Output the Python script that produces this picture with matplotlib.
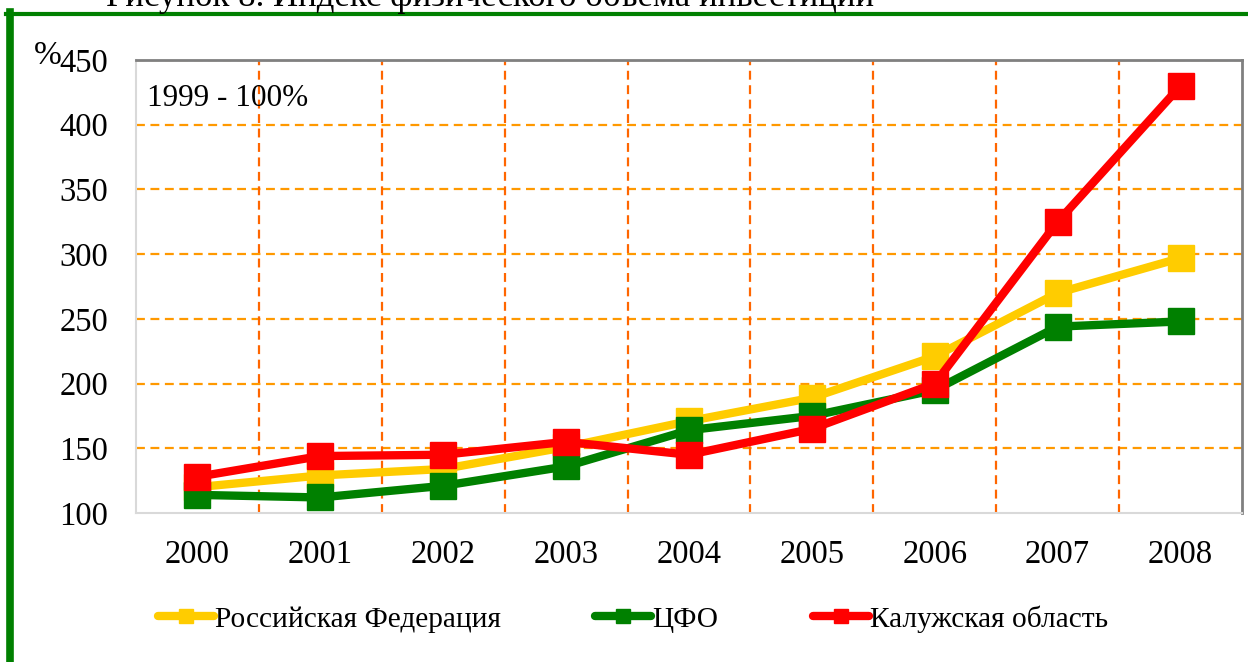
import matplotlib
matplotlib.use("Agg")
import matplotlib.pyplot as plt
from matplotlib.lines import Line2D

plt.rcParams["font.family"] = ["Liberation Serif", "DejaVu Serif"]

years = ["2000", "2001", "2002", "2003", "2004", "2005", "2006", "2007", "2008"]
rf = [120, 129, 134, 151, 171, 189, 221, 270, 297]
cfo = [114, 112, 121, 136, 164, 175, 195, 244, 248]
kaluga = [128, 144, 145, 155, 145, 165, 200, 325, 430]

series = [
    ("Российская Федерация", rf, "#FFCC00"),
    ("ЦФО", cfo, "#008000"),
    ("Калужская область", kaluga, "#FF0000"),
]

W, H = 1248, 662
fig = plt.figure(figsize=(W / 100, H / 100), dpi=100)

# plot area in pixel coords
left, right, top, bottom = 136, 1242, 60, 513
ax = fig.add_axes([left / W, 1 - bottom / H, (right - left) / W, (bottom - top) / H])

x = range(len(years))
for name, vals, col in series:
    ax.plot(x, vals, color=col, lw=6, marker="s", ms=18.5, mec=col, mfc=col,
            solid_joinstyle="miter", label=name, zorder=3)

ax.set_xlim(-0.5, len(years) - 0.5)
ax.set_ylim(100, 450)
ax.set_yticks(range(100, 451, 50))
ax.set_xticks(list(x))
ax.set_xticklabels(years)
ax.tick_params(length=0, labelsize=23.5)
ax.tick_params(axis="x", pad=19)
ax.tick_params(axis="y", pad=20)

# grid: horizontal orange dashed, vertical dashed between categories
for yv in range(150, 451, 50):
    ax.axhline(yv, color="#FF9900", lw=1.6, ls=(0, (4, 2.5)), zorder=1)
for xv in range(len(years) - 1):
    ax.axvline(xv + 0.5, color="#FF6600", lw=1.6, ls=(0, (4, 2.5)), zorder=1)

for side in ["top", "right"]:
    ax.spines[side].set_color("#808080")
    ax.spines[side].set_linewidth(2)
for side in ["left", "bottom"]:
    ax.spines[side].set_color("#D9D9D9")
    ax.spines[side].set_linewidth(1.5)

ax.text(0.01, 0.915, "1999 - 100%", transform=ax.transAxes, fontsize=22.5,
        va="center", ha="left")
fig.text(34 / W, 1 - 56 / H, "%", fontsize=24, ha="left", va="center")

# legend
handles = [Line2D([0], [0], color=c, lw=6, marker="s", ms=10.5, solid_capstyle="round")
           for _, _, c in series]
fig.legend(handles, [s[0] for s in series], loc="center", ncol=3, frameon=False,
           bbox_to_anchor=(633 / W, 1 - 619 / H), fontsize=21.2, handlelength=1.9,
           handletextpad=0.05, columnspacing=3.2)

# green frame and cut-off caption
fig.add_artist(Line2D([9.5 / W, 9.5 / W], [0, 1 - 12 / H], color="#008000", lw=5.5))
fig.add_artist(Line2D([6 / W, 1], [1 - 13.5 / H, 1 - 13.5 / H], color="#008000", lw=3))
fig.text(106 / W, 1 - 6 / H, "Рисунок 8. Индекс физического объема инвестиций",
         fontsize=25, ha="left", va="baseline")

fig.savefig("out.png", dpi=100)
